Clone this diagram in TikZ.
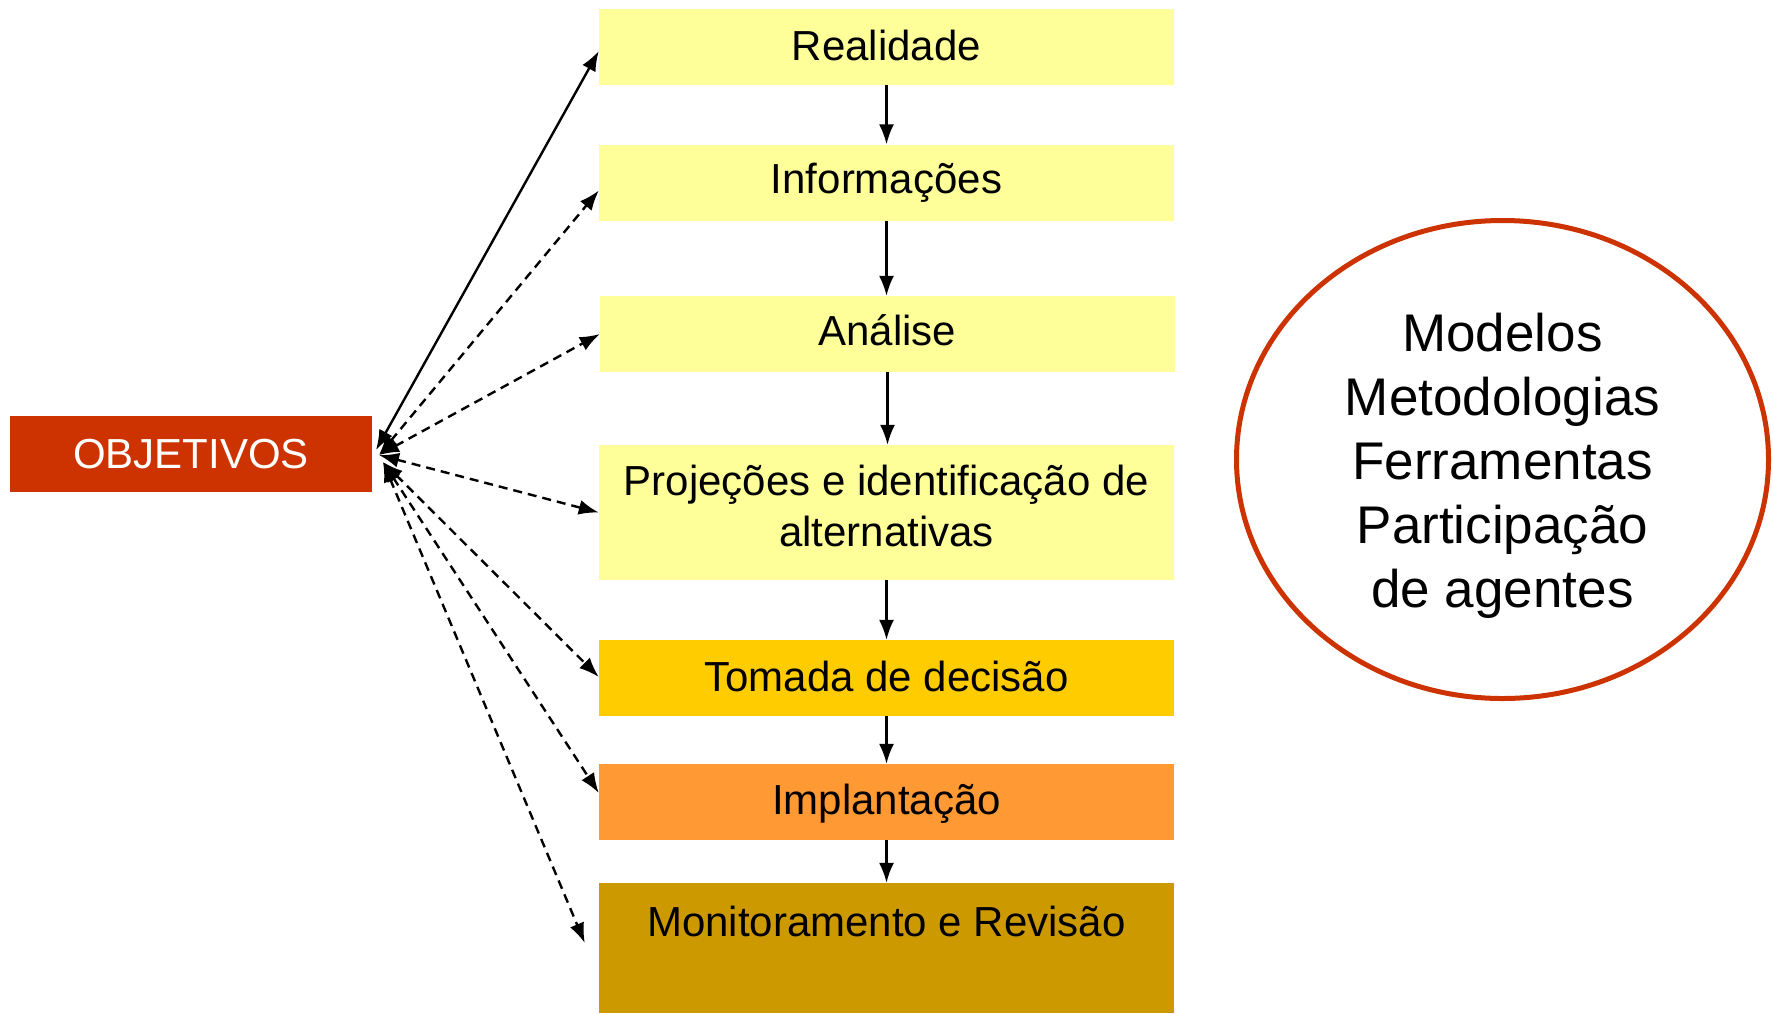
\documentclass[tikz,border=0pt]{standalone}
\usepackage{fontspec}
\setmainfont{Liberation Sans}
\usetikzlibrary{arrows.meta,shapes.geometric}
\definecolor{lightyel}{HTML}{FFFF99}
\definecolor{tomcol}{HTML}{FFCC00}
\definecolor{impcol}{HTML}{FF9933}
\definecolor{moncol}{HTML}{CC9900}
\definecolor{objred}{HTML}{CC3300}
\begin{document}
\begin{tikzpicture}[x=1pt,y=-1pt,
  stagebox/.style={rectangle, inner sep=0pt, minimum width=575pt, minimum height=76pt,
    font=\fontsize{42}{51}\selectfont, align=center},
  txt/.style={inner sep=0pt, align=center, font=\fontsize{42}{51}\selectfont},
  tip/.style={-{Latex[length=20pt,width=15pt]}},
  vlink/.style={tip, line width=2.2pt},
  diag/.style={{Latex[length=20pt,width=15pt]}-{Latex[length=20pt,width=15pt]}, line width=2.4pt},
  dline/.style={diag, dash pattern=on 9pt off 6pt}
]
\useasboundingbox (0,0) rectangle (1773,1013);
\fill[white] (0,0) rectangle (1773,1013);

\node[stagebox, fill=lightyel] (real) at (886.5,47) {};
\node[txt] (realtxt) at (886.5,45) {Realidade};
\node[stagebox, fill=lightyel] (info) at (886.5,182.5) {};
\node[txt] (infotxt) at (886.5,183) {Informações};
\node[stagebox, fill=lightyel] (ana) at (887.5,334) {};
\node[txt] (anatxt) at (887.5,330) {Análise};
\node[stagebox, fill=lightyel, minimum height=135pt] (proj) at (886.5,512.5) {};
\node[txt] (projtxt) at (886.5,506) {Projeções e identificação de\\alternativas};
\node[stagebox, fill=tomcol] (tom) at (886.5,678) {};
\node[txt] (tomtxt) at (886.5,676) {Tomada de decisão};
\node[stagebox, fill=impcol] (imp) at (886.5,802) {};
\node[txt] (imptxt) at (886.5,804) {Implantação};
\node[stagebox, fill=moncol, minimum height=130pt] (mon) at (886.5,948) {};
\node[txt] (montxt) at (886.5,921) {Monitoramento e Revisão};

\node[rectangle, inner sep=0pt, minimum width=362pt, minimum height=76pt, fill=objred,
  text=white, font=\fontsize{42}{51}\selectfont] (obj) at (191,454) {OBJETIVOS};

\node[ellipse, draw=objred, line width=5pt, inner sep=0pt, minimum width=532pt, minimum height=478pt]
  (ell) at (1502.5,459.5) {};
\node[inner sep=0pt, align=center, font=\fontsize{53}{64}\selectfont] (elltxt) at (1502.5,466)
  {Modelos\\Metodologias\\Ferramentas\\Participação\\de agentes};

\draw[vlink] (real.south) -- (info.north);
\draw[vlink] (info.south) -- (ana.north -| info.south);
\draw[vlink] (ana.south) -- (proj.north -| ana.south);
\draw[vlink] (proj.south) -- (tom.north);
\draw[vlink] (tom.south) -- (imp.north);
\draw[vlink] (imp.south) -- (mon.north);

\coordinate (o1) at (376,450);
\coordinate (o2) at (379,455);
\coordinate (o3) at (383,462);
\coordinate (mtip) at ([xshift=-14pt,yshift=5pt]mon.west);
\draw[diag] (o1) -- ([yshift=-4pt]real.west);
\draw[dline] (o2) -- ([yshift=-8pt]info.west);
\draw[dline] (o2) -- (ana.west);
\draw[dline] (o2) -- (proj.west);
\draw[dline] (o3) -- ([yshift=1pt]tom.west);
\draw[dline] (o3) -- ([yshift=9pt]imp.west);
\draw[dline] (o3) -- (mtip);
\end{tikzpicture}
\end{document}
